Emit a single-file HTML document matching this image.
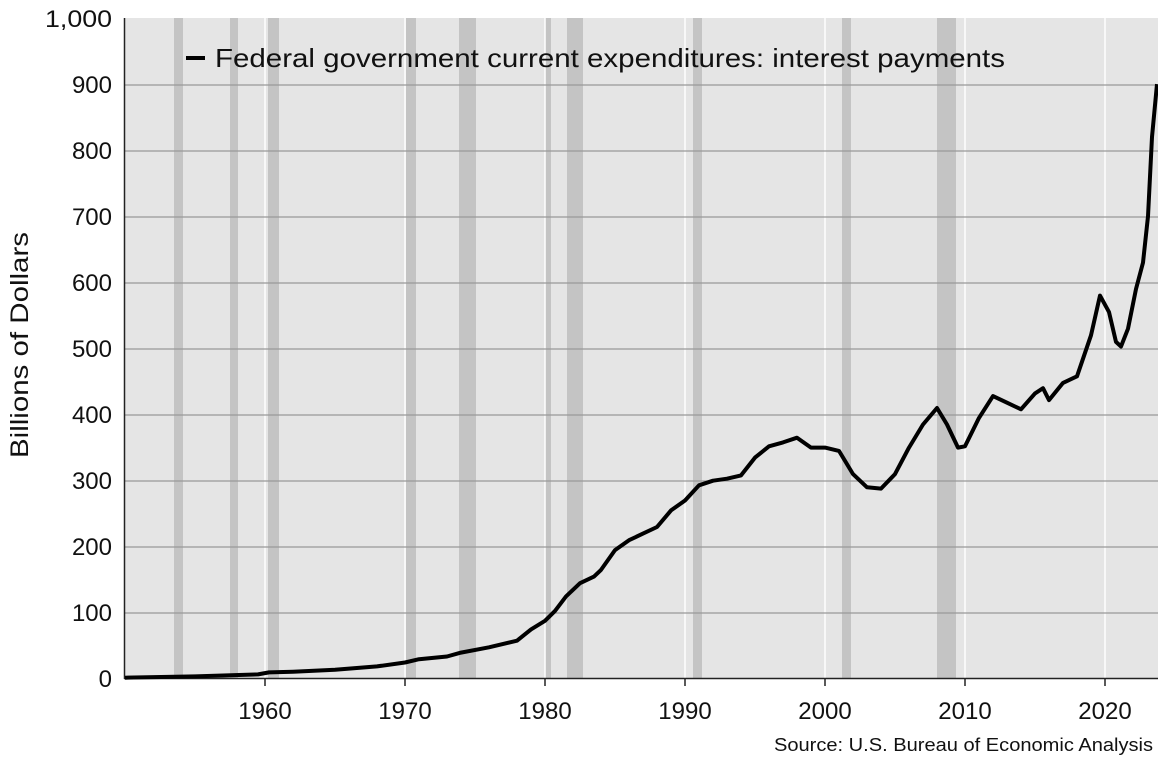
<!DOCTYPE html>
<html><head><style>
body{margin:0;background:#fff;}
svg text{font-family:"Liberation Sans",sans-serif;fill:#111;}
</style></head><body>
<svg width="1158" height="756" xmlns="http://www.w3.org/2000/svg">
<rect x="125" y="18" width="1033" height="661" fill="#e5e5e5"/>
<g fill="#c4c4c4">
<rect x="174" y="18" width="9" height="661"/>
<rect x="230" y="18" width="8" height="661"/>
<rect x="268" y="18" width="11" height="661"/>
<rect x="406" y="18" width="10" height="661"/>
<rect x="459" y="18" width="17" height="661"/>
<rect x="545" y="18" width="6" height="661"/>
<rect x="567" y="18" width="16" height="661"/>
<rect x="693" y="18" width="9" height="661"/>
<rect x="842" y="18" width="9" height="661"/>
<rect x="937" y="18" width="19" height="661"/>
</g>
<g stroke="#fff" stroke-width="1.5">
<line x1="265" y1="18" x2="265" y2="679"/><line x1="405" y1="18" x2="405" y2="679"/>
<line x1="545" y1="18" x2="545" y2="679"/><line x1="685" y1="18" x2="685" y2="679"/>
<line x1="825" y1="18" x2="825" y2="679"/><line x1="965" y1="18" x2="965" y2="679"/>
<line x1="1105" y1="18" x2="1105" y2="679"/>
</g>
<g stroke="#999" stroke-width="1.2">
<line x1="125" y1="85" x2="1158" y2="85"/><line x1="125" y1="151" x2="1158" y2="151"/>
<line x1="125" y1="217" x2="1158" y2="217"/><line x1="125" y1="283" x2="1158" y2="283"/>
<line x1="125" y1="349" x2="1158" y2="349"/><line x1="125" y1="415" x2="1158" y2="415"/>
<line x1="125" y1="481" x2="1158" y2="481"/><line x1="125" y1="547" x2="1158" y2="547"/>
<line x1="125" y1="613" x2="1158" y2="613"/>
</g>
<g stroke="#222" stroke-width="1.5">
<line x1="124.5" y1="18" x2="124.5" y2="679"/>
<line x1="124" y1="678.5" x2="1158" y2="678.5"/>
<line x1="265" y1="679" x2="265" y2="686"/><line x1="405" y1="679" x2="405" y2="686"/>
<line x1="545" y1="679" x2="545" y2="686"/><line x1="685" y1="679" x2="685" y2="686"/>
<line x1="825" y1="679" x2="825" y2="686"/><line x1="965" y1="679" x2="965" y2="686"/>
<line x1="1105" y1="679" x2="1105" y2="686"/>
</g>
<g font-size="24" text-anchor="end">
<text x="112" y="27" textLength="67" lengthAdjust="spacingAndGlyphs">1,000</text><text x="112" y="93">900</text><text x="112" y="159">800</text>
<text x="112" y="225">700</text><text x="112" y="291">600</text><text x="112" y="357">500</text>
<text x="112" y="423">400</text><text x="112" y="489">300</text><text x="112" y="555">200</text>
<text x="112" y="621">100</text><text x="112" y="687">0</text>
</g>
<g font-size="24" text-anchor="middle">
<text x="265" y="719">1960</text><text x="405" y="719">1970</text><text x="545" y="719">1980</text>
<text x="685" y="719">1990</text><text x="825" y="719">2000</text><text x="965" y="719">2010</text>
<text x="1105" y="719">2020</text>
</g>
<text transform="translate(28,345) rotate(-90)" font-size="25" text-anchor="middle" textLength="226" lengthAdjust="spacingAndGlyphs">Billions of Dollars</text>
<text x="1153" y="751" font-size="18" text-anchor="end" textLength="379" lengthAdjust="spacingAndGlyphs">Source: U.S. Bureau of Economic Analysis</text>
<line x1="186" y1="58" x2="205" y2="58" stroke="#000" stroke-width="4"/>
<text x="215" y="67" font-size="26" textLength="790" lengthAdjust="spacingAndGlyphs">Federal government current expenditures: interest payments</text>
<polyline fill="none" stroke="#000" stroke-width="4" stroke-linejoin="round" points="
125,677.7 195,676.4 258,674.4 269,672.4 293,671.7 335,669.7 377,666.4 405,662.5 419,659.2 447,656.5 461,652.6 489,647.3 517,640.7 531,629.4 545,620.8 555,610.9 566,596.4 580,583.2 594,576.6 601,569.9 615,550.1 629,540.2 643,533.6 657,527.0 671,510.4 685,500.5 699,485.3 713,480.7 727,478.7 741,475.4 755,457.6 769,446.3 783,442.4 797,437.7 811,447.6 825,447.6 839,450.9 853,474.1 867,487.3 881,488.6 895,474.1 909,447.6 923,424.5 937,408.0 947,424.5 958,447.6 965,446.3 979,417.9 993,396.1 1007,402.7 1021,409.3 1035,393.4 1043,388.2 1049,400.1 1063,382.9 1077,376.3 1091,335.3 1100,295.6 1109,312.1 1116,341.9 1121,346.5 1128,328.7 1136,289.0 1143,262.6 1148,216.3 1152,137.0 1157,84.1"/>
</svg>
</body></html>
